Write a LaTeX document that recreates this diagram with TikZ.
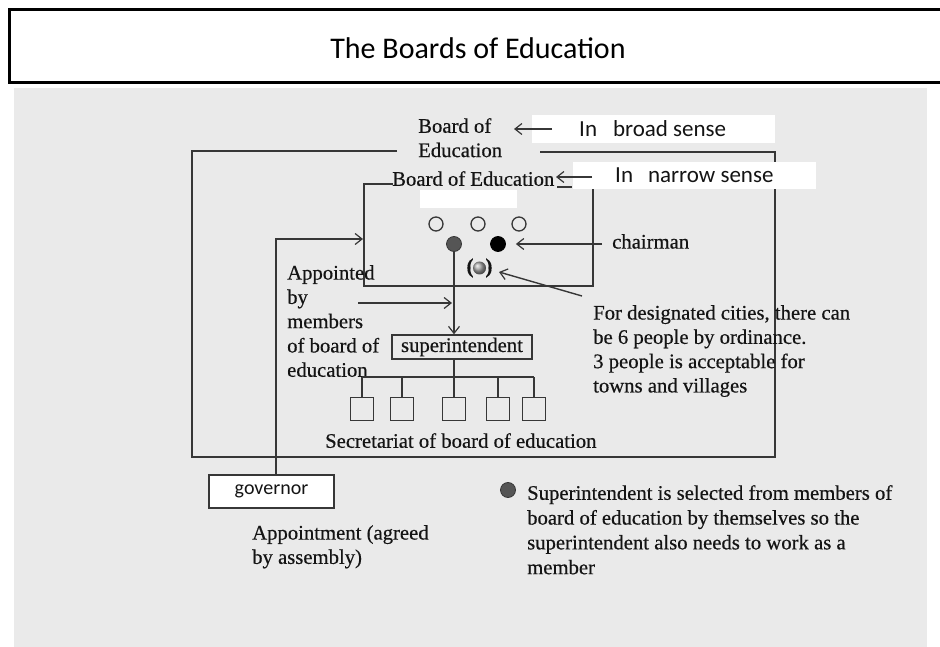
\documentclass[tikz,border=0pt]{standalone}
\usepackage{fontspec}
\setmainfont{Liberation Serif}[FakeBold=0.45]
\newfontfamily\calfont{Carlito}
\usetikzlibrary{arrows.meta}
\definecolor{bggray}{RGB}{234,234,234}
\definecolor{lncol}{RGB}{55,55,55}
\definecolor{ink}{RGB}{20,20,20}
\definecolor{darkball}{RGB}{85,85,85}
\begin{document}
\begin{tikzpicture}[x=1pt,y=-1pt,
  ser/.style={font=\fontsize{20.7}{24.3}\selectfont, text=ink, inner sep=0pt, anchor=north west, align=left},
  sans/.style={font=\calfont\fontsize{23}{27}\selectfont, text=ink, inner sep=0pt, anchor=base west},
  ln/.style={draw=lncol, line width=1.4pt},
  arr/.style={ln, -{Straight Barb[length=7pt,width=11pt,line width=1.2pt]}},
  whitebox/.style={fill=white, draw=none, inner sep=0pt, anchor=north west},
  sq/.style={draw=lncol, line width=1.4pt, minimum size=23pt, inner sep=0pt, anchor=north},
  member/.style={circle, draw=lncol, line width=1.3pt, minimum size=14pt, inner sep=0pt},
  dot/.style={circle, draw=lncol, line width=0.8pt, minimum size=15pt, inner sep=0pt},
]
\useasboundingbox (0,0) rectangle (940,647);
\fill[white] (0,0) rectangle (940,647);
\fill[bggray] (14,88) rectangle (927,647);
% title
\draw[line width=3pt, fill=white] (9,10) rectangle (960,83);
\node[font=\calfont\fontsize{30}{34}\selectfont, text=black] (title) at (478,48) {The Boards of Education};
% outer and inner frames
\draw[ln] (397,151) -- (192,151) -- (192,457) -- (775,457) -- (775,152) -- (540,152);
\draw[ln] (393,184) -- (364,184) -- (364,286) -- (593,286) -- (593,189);
% white label boxes
\node[whitebox, minimum width=243pt, minimum height=28pt] (broadbox) at (532,115) {};
\node[sans] (broadtxt) at (579,137) {In\hspace{16pt}broad sense};
\node[whitebox, minimum width=243pt, minimum height=27pt] (narrowbox) at (573,162) {};
\node[sans] (narrowtxt) at (615,183) {In\hspace{15pt}narrow sense};
\node[whitebox, minimum width=97pt, minimum height=18pt] (hidebox) at (420,190) {};
% texts
\node[ser] (boeBroad) at (418,118) {Board of\\Education};
\node[ser] (boeNarrow) at (392,171) {Board of Education};
\node[ser] (chair) at (612,234) {chairman};
\node[ser] (desig) at (593,305) {For designated cities, there can\\be 6 people by ordinance.\\3 people is acceptable for\\towns and villages};
\node[ser] (appointed) at (287,265) {Appointed\\by\\members\\of board of\\education};
\node[ser] (secr) at (325,433) {Secretariat of board of education};
\node[ser] (appt) at (252,525) {Appointment (agreed\\by assembly)};
\node[ser, font=\fontsize{20.7}{24.8}\selectfont] (note) at (527,485) {Superintendent is selected from members of\\board of education by themselves so the\\superintendent also needs to work as a\\member};
% members
\node[member] (m1) at (436,224) {};
\node[member] (m2) at (478,224) {};
\node[member] (m3) at (519,224) {};
\node[dot, fill=darkball] (supm) at (454,244) {};
\node[dot, fill=black, draw=black] (chm) at (498,244) {};
\node[font=\bfseries\fontsize{21}{24}\selectfont, text=ink, inner sep=0pt] (extra) at (479.5,268) {(\hspace{12pt})};
\shade[ball color=gray!70] (extra.center) circle (6.5pt);
% superintendent and secretariat
\node[draw=lncol, line width=1.4pt, minimum width=140pt, minimum height=24pt, inner sep=0pt, font=\fontsize{20.7}{24}\selectfont, text=ink] (super) at (462,347) {superintendent};
\coordinate (bus) at (454,377);
\draw[ln] (super.south -| supm) -- (bus);
\foreach \i/\x in {1/362,2/402,3/454,4/498,5/534} {
  \node[sq] (s\i) at (\x,397) {};
  \draw[ln] (s\i.north) -- (s\i.north |- bus);
}
\draw[ln] (s1.north |- bus) -- (s5.north |- bus);
% governor
\node[draw=lncol, line width=1.2pt, fill=white, minimum width=125pt, minimum height=33pt, inner sep=0pt, font=\calfont\fontsize{20}{24}\selectfont, text=ink] (gov) at (271.5,491.5) {governor};
\coordinate (gturn) at (276,239);
\coordinate (inL) at (363,239);
\draw[arr] (gov.north -| gturn) -- (gturn) -- (inL);
% arrows
\draw[arr] (supm.south) -- (super.north -| supm);
\coordinate (apL) at (358,303);
\coordinate (apR) at (452,303);
\draw[arr] (apL) -- (apR);
\coordinate (chTail) at (602,244);
\draw[arr] (chTail) -- ([xshift=10pt]chm.east);
\coordinate (dTail) at (582,296);
\coordinate (dTip) at (499,272);
\draw[arr] (dTail) -- (dTip);
\coordinate (bTail) at (552,129);
\coordinate (bTip) at (514,129);
\draw[arr] (bTail) -- (bTip);
\coordinate (nTail) at (592,177);
\coordinate (nTip) at (556,177);
\draw[arr] (nTail) -- (nTip);
\coordinate (uL) at (557,187);
\coordinate (uR) at (572,187);
\draw[ln, line width=1.2pt] (uL) -- (uR);
% bullet
\node[dot, fill=darkball] (bullet) at (508,490) {};
\end{tikzpicture}
\end{document}
